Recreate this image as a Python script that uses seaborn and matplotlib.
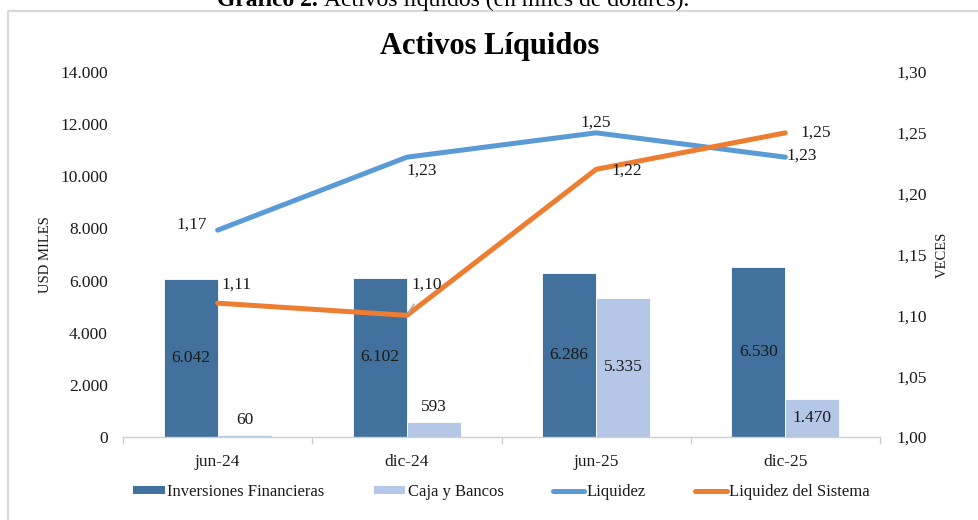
import numpy as np
import pandas as pd
import matplotlib
matplotlib.use("Agg")
import matplotlib.pyplot as plt
from matplotlib.lines import Line2D
from matplotlib.patches import Patch
import seaborn as sns

# data
periodos = ["jun-24", "dic-24", "jun-25", "dic-25"]
inversiones = [6042, 6102, 6286, 6530]
caja_bancos = [60, 593, 5335, 1470]
liquidez = [1.17, 1.23, 1.25, 1.23]
liquidez_sistema = [1.11, 1.10, 1.22, 1.25]

series_barras = ["Inversiones Financieras", "Caja y Bancos"]
series_lineas = ["Liquidez", "Liquidez del Sistema"]
colores = {
    "Inversiones Financieras": "#41719C",
    "Caja y Bancos": "#B4C7E7",
    "Liquidez": "#5B9BD5",
    "Liquidez del Sistema": "#ED7D31",
}

sns.set_theme(style="white")
plt.rcParams["font.family"] = ["Liberation Serif", "DejaVu Serif"]
texto = "#1a1a1a"
fs = 12.5


def miles(v):
    return f"{v:,.0f}".replace(",", ".")


def coma(v):
    return f"{v:.2f}".replace(".", ",")


df_barras = pd.DataFrame(
    {
        "periodo": periodos * 2,
        "serie": [series_barras[0]] * 4 + [series_barras[1]] * 4,
        "valor": inversiones + caja_bancos,
    }
)
pos = np.arange(len(periodos))
df_lineas = pd.DataFrame(
    {
        "x": np.concatenate([pos, pos]),
        "serie": [series_lineas[0]] * 4 + [series_lineas[1]] * 4,
        "valor": liquidez + liquidez_sistema,
    }
)

fig = plt.figure(figsize=(9.79, 5.20), dpi=100)
ax = fig.add_axes([123 / 979, 1 - 437 / 520, 757 / 979, 365 / 520])

sns.barplot(
    data=df_barras,
    x="periodo",
    y="valor",
    hue="serie",
    hue_order=series_barras,
    palette=colores,
    saturation=1,
    width=0.57,
    gap=0,
    edgecolor="white",
    linewidth=0.6,
    legend=False,
    ax=ax,
)

ax.set_xlim(-0.5, len(periodos) - 0.5)
ax.set_ylim(0, 14000)
ax.set_yticks(np.arange(0, 14001, 2000))
ax.set_yticklabels([miles(v) for v in np.arange(0, 14001, 2000)], fontsize=fs, color=texto)
ax.set_xticks(pos)
ax.set_xticklabels(periodos, fontsize=fs, color=texto)
ax.set_xticks(np.arange(-0.5, len(periodos)), minor=True)
ax.tick_params(axis="x", which="major", length=0, pad=12)
ax.tick_params(axis="x", which="minor", length=5, width=1, color="#D0D0D0", bottom=True)
ax.tick_params(axis="y", length=0, pad=11)
for s in ["top", "left", "right"]:
    ax.spines[s].set_visible(False)
ax.spines["bottom"].set_color("#D0D0D0")
ax.spines["bottom"].set_linewidth(1)
ax.set_xlabel("")
ax.set_ylabel("USD MILES", fontsize=10.5, color=texto, va="center")
ax.yaxis.set_label_coords(-0.103, 0.5)

# bar labels
cont_inv, cont_caja = ax.containers[0], ax.containers[1]
ax.bar_label(cont_inv, labels=[miles(v) for v in inversiones], label_type="center",
             fontsize=fs, color=texto)
ax.bar_label(cont_caja, labels=[miles(v) if v < 1000 else "" for v in caja_bancos],
             label_type="edge", padding=5, fontsize=fs, color=texto)
ax.bar_label(cont_caja, labels=[miles(v) if v >= 1000 else "" for v in caja_bancos],
             label_type="center", fontsize=fs, color=texto)

# lines on secondary axis
ax2 = ax.twinx()
sns.lineplot(
    data=df_lineas,
    x="x",
    y="valor",
    hue="serie",
    hue_order=series_lineas,
    palette=colores,
    linewidth=3.6,
    sort=False,
    legend=False,
    ax=ax2,
)
for ln in ax2.lines:
    ln.set_solid_capstyle("round")
    ln.set_solid_joinstyle("round")

ax2.set_ylim(1.0, 1.30)
ticks2 = np.round(np.arange(1.0, 1.301, 0.05), 2)
ax2.set_yticks(ticks2)
ax2.set_yticklabels([coma(v) for v in ticks2], fontsize=fs, color=texto)
ax2.tick_params(axis="y", length=0, pad=12)
for s in ["top", "left", "right", "bottom"]:
    ax2.spines[s].set_visible(False)
ax2.set_xlabel("")
ax2.set_ylabel("VECES", fontsize=10.5, color=texto, rotation=90, va="center")
ax2.yaxis.set_label_coords(1.082, 0.5)
ax2.grid(False)
ax.grid(False)

# line labels (offsets in points)
off_liq = [(-8, 4, "right"), (0, -10, "left"), (0, 7, "center"), (1, 1, "left")]
off_sis = [(3, 13, "left"), (3, 22, "left"), (11, -1, "left"), (11, 0, "left")]
for i, v in enumerate(liquidez):
    dx, dy, ha = off_liq[i]
    ax2.annotate(coma(v), (pos[i], v), xytext=(dx, dy), textcoords="offset points",
                 ha=ha, va="center", fontsize=fs, color=texto)
for i, v in enumerate(liquidez_sistema):
    dx, dy, ha = off_sis[i]
    props = None
    if i == 1:
        props = dict(arrowstyle="-", color="#A6A6A6", lw=1.2, shrinkA=7, shrinkB=2)
    ax2.annotate(coma(v), (pos[i], v), xytext=(dx, dy), textcoords="offset points",
                 ha=ha, va="center", fontsize=fs, color=texto, arrowprops=props)

# legend
handles = [
    Patch(facecolor=colores[series_barras[0]], edgecolor="none"),
    Patch(facecolor=colores[series_barras[1]], edgecolor="none"),
    Line2D([0], [0], color=colores[series_lineas[0]], lw=3.6, solid_capstyle="round"),
    Line2D([0], [0], color=colores[series_lineas[1]], lw=3.6, solid_capstyle="round"),
]
ax.legend(handles, series_barras + series_lineas, loc="center", ncol=4,
          bbox_to_anchor=(0.5, -0.151), frameon=False, fontsize=12,
          handlelength=1.9, handleheight=0.4, handletextpad=0.15, columnspacing=2.95,
          labelcolor=texto)

# title and clipped caption
fig.text(0.5, 1 - 54 / 520, "Activos Líquidos", ha="center", va="baseline",
         fontsize=22, fontweight="bold", color="black")
fig.text(318 / 979, 1 - 6 / 520, "Gráfico 2.", ha="right", va="baseline",
         fontsize=17, fontweight="bold", color="black")
fig.text(324 / 979, 1 - 6 / 520, "Activos líquidos (en miles de dólares).", ha="left",
         va="baseline", fontsize=17, color="black")

# chart frame
fig.add_artist(Line2D([8 / 979, 1], [1 - 11 / 520] * 2, color="#D9D9D9", lw=1.6,
                      transform=fig.transFigure))
fig.add_artist(Line2D([8 / 979] * 2, [0, 1 - 11 / 520], color="#D9D9D9", lw=1.6,
                      transform=fig.transFigure))

fig.savefig("out.png", dpi=100)
